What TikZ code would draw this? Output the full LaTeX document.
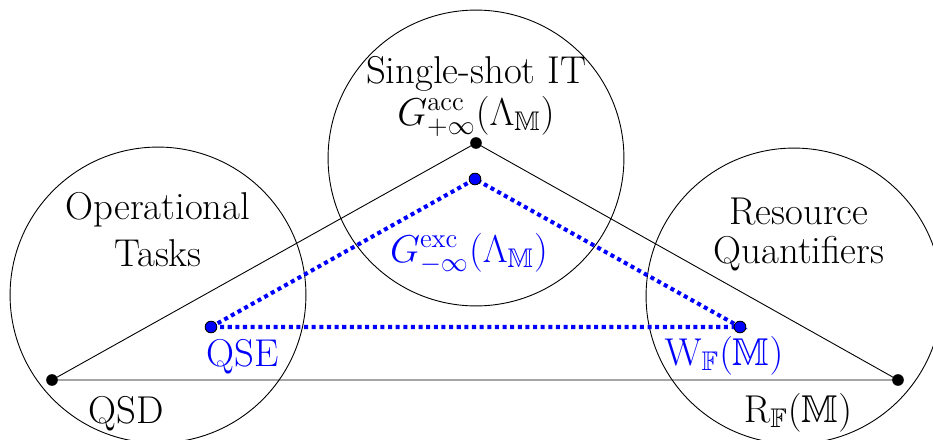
\documentclass[tikz,border=0pt]{standalone}
\usepackage{amsmath,amssymb}
\usetikzlibrary{positioning}

\begin{document}
\begin{tikzpicture}[x=0.01565cm,y=-0.01565cm,font=\LARGE,
    area/.style={draw,thin},
    dot/.style={fill=black},
    bdot/.style={draw=black,fill=blue},
    bline/.style={blue,line width=1.8pt,dash pattern=on 1.8pt off 1.6pt}]
  \useasboundingbox (0,0) rectangle (933,440);
  % circles
  \coordinate (opc) at (158,295);
  \coordinate (itc) at (476,158);
  \coordinate (resc) at (794,296);
  \draw[area] (opc) circle (2.316cm);
  \draw[area] (itc) circle (2.316cm);
  \draw[area] (resc) circle (2.316cm);
  % corners
  \coordinate (qsdpt) at (52,380);
  \coordinate (itpt) at (476,143);
  \coordinate (rfpt) at (898,380);
  \coordinate (qsept) at (211,327);
  \coordinate (gpt) at (475,179);
  \coordinate (wfpt) at (740,327);
  \draw[thin] (qsdpt)--(itpt)--(rfpt)--cycle;
  \draw[bline] (qsept)--(gpt)--(wfpt)--cycle;
  \fill[dot] (qsdpt) circle (2.6pt);
  \fill[dot] (itpt) circle (2.6pt);
  \fill[dot] (rfpt) circle (2.6pt);
  \filldraw[bdot] (qsept) circle (2.6pt);
  \filldraw[bdot] (gpt) circle (2.6pt);
  \filldraw[bdot] (wfpt) circle (2.6pt);
  % labels
  \node[anchor=base] (it) at (476,83) {Single-shot IT};
  \node[anchor=base] (gacc) at (476,125) {$G^{\mathrm{acc}}_{+\infty}(\Lambda_{\mathbb{M}})$};
  \node[anchor=base,align=center] (ops) at (158,266) {Operational\\[-1.5pt]Tasks};
  \node[anchor=base,align=center] (res) at (799,263) {Resource\\[-5pt]Quantifiers};
  \node[anchor=base,blue] (gexc) at (469,262) {$G^{\mathrm{exc}}_{-\infty}(\Lambda_{\mathbb{M}})$};
  \node[anchor=base,blue] (qse) at (243,366) {QSE};
  \node[anchor=base,blue] (wf) at (724,365) {$\mathrm{W}_{\mathbb{F}}(\mathbb{M})$};
  \node[anchor=base] (qsd) at (126,423) {QSD};
  \node[anchor=base] (rf) at (798,422) {$\mathrm{R}_{\mathbb{F}}(\mathbb{M})$};
\end{tikzpicture}
\end{document}
